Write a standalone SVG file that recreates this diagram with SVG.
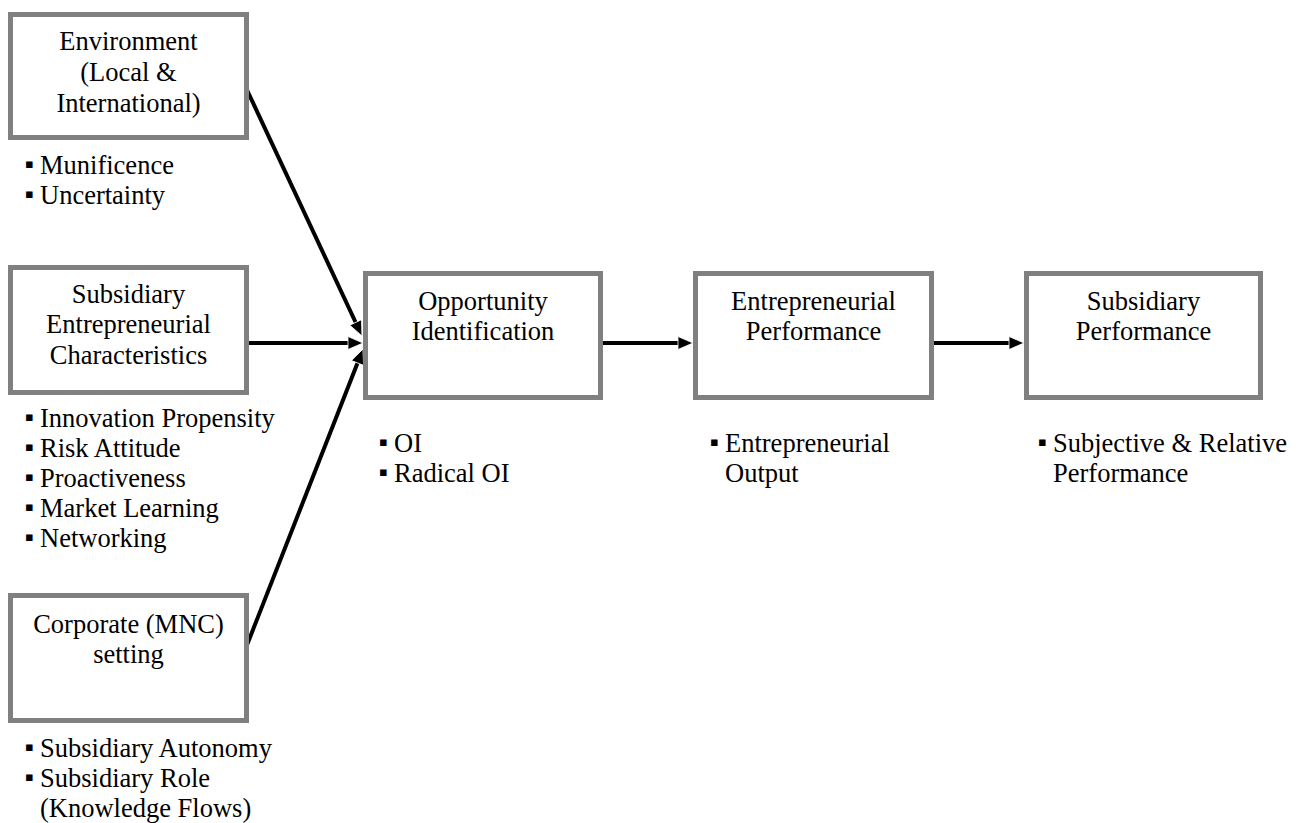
<svg xmlns="http://www.w3.org/2000/svg" width="1303" height="823" viewBox="0 0 1303 823">
  <style>
    .box { fill: #ffffff; stroke: #808080; stroke-width: 5; }
    .lbl { font-family: "Liberation Serif", "Times New Roman", serif; font-size: 26.5px; fill: #000000; }
    .mid { text-anchor: middle; }
    .bul { font-family: "DejaVu Sans", sans-serif; font-size: 13px; fill: #000000; }
    .link { fill: none; stroke: #000000; stroke-width: 4; }
  </style>
  <defs>
    <marker id="arrow" markerUnits="userSpaceOnUse" markerWidth="15" markerHeight="13" refX="7" refY="6.5" orient="auto" overflow="visible">
      <path d="M0,0 L15,6.5 L0,13 Z" fill="#000000" stroke="#ffffff" stroke-width="0.8" stroke-linejoin="miter"/>
    </marker>
  </defs>
  <rect width="1303" height="823" fill="#ffffff"/>

  <!-- connectors -->
  <g id="connectors">
    <line class="link" x1="247" y1="90" x2="358.61" y2="328.75" marker-end="url(#arrow)"/>
    <line class="link" x1="249" y1="343" x2="355" y2="343" marker-end="url(#arrow)"/>
    <line class="link" x1="247" y1="645" x2="360.08" y2="356.45" marker-end="url(#arrow)"/>
    <line class="link" x1="603" y1="343" x2="685" y2="343" marker-end="url(#arrow)"/>
    <line class="link" x1="934" y1="343" x2="1016" y2="343" marker-end="url(#arrow)"/>
  </g>

  <!-- environment -->
  <g id="environment">
    <rect class="box" x="10.5" y="14.5" width="236" height="123"/>
    <text class="lbl mid" x="128.5" y="50">Environment</text>
    <text class="lbl mid" x="128.5" y="81">(Local &amp;</text>
    <text class="lbl mid" x="128.5" y="112">International)</text>
    <text class="bul" x="25" y="168">▪</text>
    <text class="lbl" x="40" y="174">Munificence</text>
    <text class="bul" x="25" y="198">▪</text>
    <text class="lbl" x="40" y="204">Uncertainty</text>
  </g>

  <!-- subsidiary entrepreneurial characteristics -->
  <g id="characteristics">
    <rect class="box" x="10.5" y="267.5" width="236" height="125"/>
    <text class="lbl mid" x="128.5" y="303">Subsidiary</text>
    <text class="lbl mid" x="128.5" y="333">Entrepreneurial</text>
    <text class="lbl mid" x="128.5" y="364">Characteristics</text>
    <text class="bul" x="25" y="421">▪</text>
    <text class="lbl" x="40" y="427">Innovation Propensity</text>
    <text class="bul" x="25" y="451">▪</text>
    <text class="lbl" x="40" y="457">Risk Attitude</text>
    <text class="bul" x="25" y="481">▪</text>
    <text class="lbl" x="40" y="487">Proactiveness</text>
    <text class="bul" x="25" y="511">▪</text>
    <text class="lbl" x="40" y="517">Market Learning</text>
    <text class="bul" x="25" y="541">▪</text>
    <text class="lbl" x="40" y="547">Networking</text>
  </g>

  <!-- corporate setting -->
  <g id="corporate">
    <rect class="box" x="10.5" y="595.5" width="236" height="125"/>
    <text class="lbl mid" x="128.5" y="633">Corporate (MNC)</text>
    <text class="lbl mid" x="128.5" y="663">setting</text>
    <text class="bul" x="25" y="751">▪</text>
    <text class="lbl" x="40" y="757">Subsidiary Autonomy</text>
    <text class="bul" x="25" y="781">▪</text>
    <text class="lbl" x="40" y="787">Subsidiary Role</text>
    <text class="lbl" x="40" y="817">(Knowledge Flows)</text>
  </g>

  <!-- opportunity identification -->
  <g id="opportunity">
    <rect class="box" x="365.5" y="273.5" width="235" height="124"/>
    <text class="lbl mid" x="483" y="310">Opportunity</text>
    <text class="lbl mid" x="483" y="340">Identification</text>
    <text class="bul" x="379" y="446">▪</text>
    <text class="lbl" x="394" y="452">OI</text>
    <text class="bul" x="379" y="476">▪</text>
    <text class="lbl" x="394" y="482">Radical OI</text>
  </g>

  <!-- entrepreneurial performance -->
  <g id="entrepreneurial">
    <rect class="box" x="695.5" y="273.5" width="236" height="124"/>
    <text class="lbl mid" x="813.5" y="310">Entrepreneurial</text>
    <text class="lbl mid" x="813.5" y="340">Performance</text>
    <text class="bul" x="710" y="446">▪</text>
    <text class="lbl" x="725" y="452">Entrepreneurial</text>
    <text class="lbl" x="725" y="482">Output</text>
  </g>

  <!-- subsidiary performance -->
  <g id="subsidiary">
    <rect class="box" x="1026.5" y="273.5" width="234" height="124"/>
    <text class="lbl mid" x="1143.5" y="310">Subsidiary</text>
    <text class="lbl mid" x="1143.5" y="340">Performance</text>
    <text class="bul" x="1038" y="446">▪</text>
    <text class="lbl" x="1053" y="452">Subjective &amp; Relative</text>
    <text class="lbl" x="1053" y="482">Performance</text>
  </g>
</svg>
